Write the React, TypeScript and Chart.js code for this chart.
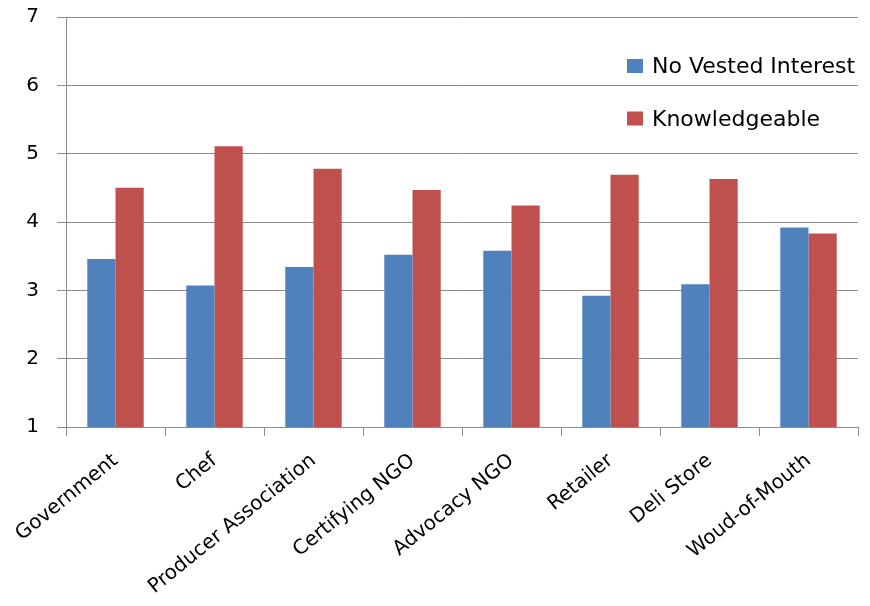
import React, { useEffect, useRef } from "react";
import { Chart, registerables } from "chart.js";

Chart.register(...registerables);

const categories = [
  "Government",
  "Chef",
  "Producer Association",
  "Certifying NGO",
  "Advocacy NGO",
  "Retailer",
  "Deli Store",
  "Woud-of-Mouth",
];
const noVestedInterest = [3.46, 3.07, 3.34, 3.52, 3.58, 2.92, 3.09, 3.92];
const knowledgeable = [4.5, 5.11, 4.78, 4.47, 4.24, 4.69, 4.63, 3.83];
const seriesNames = ["No Vested Interest", "Knowledgeable"];
const yMin = 1;
const yMax = 7;
const yStep = 1;

const BLUE = "#4F81BD";
const RED = "#C0504D";
const GRID = "#8c8c8c";
const FONT = "'DejaVu Sans', Verdana, sans-serif";

const legendPlugin = {
  id: "customLegend",
  afterDraw(chart: any) {
    const ctx = chart.ctx;
    ctx.save();
    chart.data.datasets.forEach((ds: any, i: number) => {
      const cy = 66 + i * 52.5;
      ctx.fillStyle = ds.backgroundColor;
      ctx.fillRect(627, cy - 7, 16, 14);
      ctx.fillStyle = "#000";
      ctx.font = `22px ${FONT}`;
      ctx.textBaseline = "alphabetic";
      ctx.textAlign = "left";
      ctx.fillText(ds.label, 652, cy + 7);
    });
    ctx.restore();
  },
};

export default function App() {
  const ref = useRef<HTMLCanvasElement | null>(null);
  useEffect(() => {
    document.body.style.margin = "0";
    const canvas = ref.current;
    if (!canvas) return;
    const chart = new Chart(canvas, {
      type: "bar",
      data: {
        labels: categories,
        datasets: [
          {
            label: seriesNames[0],
            data: noVestedInterest,
            backgroundColor: BLUE,
            borderWidth: 0,
            categoryPercentage: 0.57,
            barPercentage: 1,
          },
          {
            label: seriesNames[1],
            data: knowledgeable,
            backgroundColor: RED,
            borderWidth: 0,
            categoryPercentage: 0.57,
            barPercentage: 1,
          },
        ],
      },
      options: {
        responsive: false,
        animation: false,
        devicePixelRatio: 1,
        layout: { padding: { top: 17, right: 12, left: 0, bottom: 0 } },
        plugins: {
          legend: { display: false },
          tooltip: { enabled: false },
          title: { display: false },
        },
        scales: {
          x: {
            grid: {
              offset: true,
              drawOnChartArea: false,
              drawTicks: true,
              tickLength: 9,
              color: GRID,
            },
            border: { color: GRID, width: 1 },
            ticks: {
              color: "#000",
              font: { family: FONT, size: 20 },
              minRotation: 39,
              maxRotation: 39,
              padding: 13,
              autoSkip: false,
            },
            afterFit(scale: any) {
              scale.height = 179;
              scale.paddingLeft = 0;
              scale.paddingRight = 0;
            },
          },
          y: {
            min: yMin,
            max: yMax,
            grid: { color: GRID, tickLength: 9, lineWidth: 1 },
            border: { color: GRID, width: 1 },
            ticks: {
              stepSize: yStep,
              color: "#000",
              font: { family: FONT, size: 20 },
              padding: 18,
            },
            afterFit(scale: any) {
              scale.width = 66;
              scale.paddingTop = 0;
              scale.paddingBottom = 0;
            },
          },
        },
      },
      plugins: [legendPlugin],
    });
    return () => chart.destroy();
  }, []);
  return (
    <div style={{ width: 870, height: 606, background: "#fff" }}>
      <canvas ref={ref} width={870} height={606} style={{ display: "block" }} />
    </div>
  );
}
